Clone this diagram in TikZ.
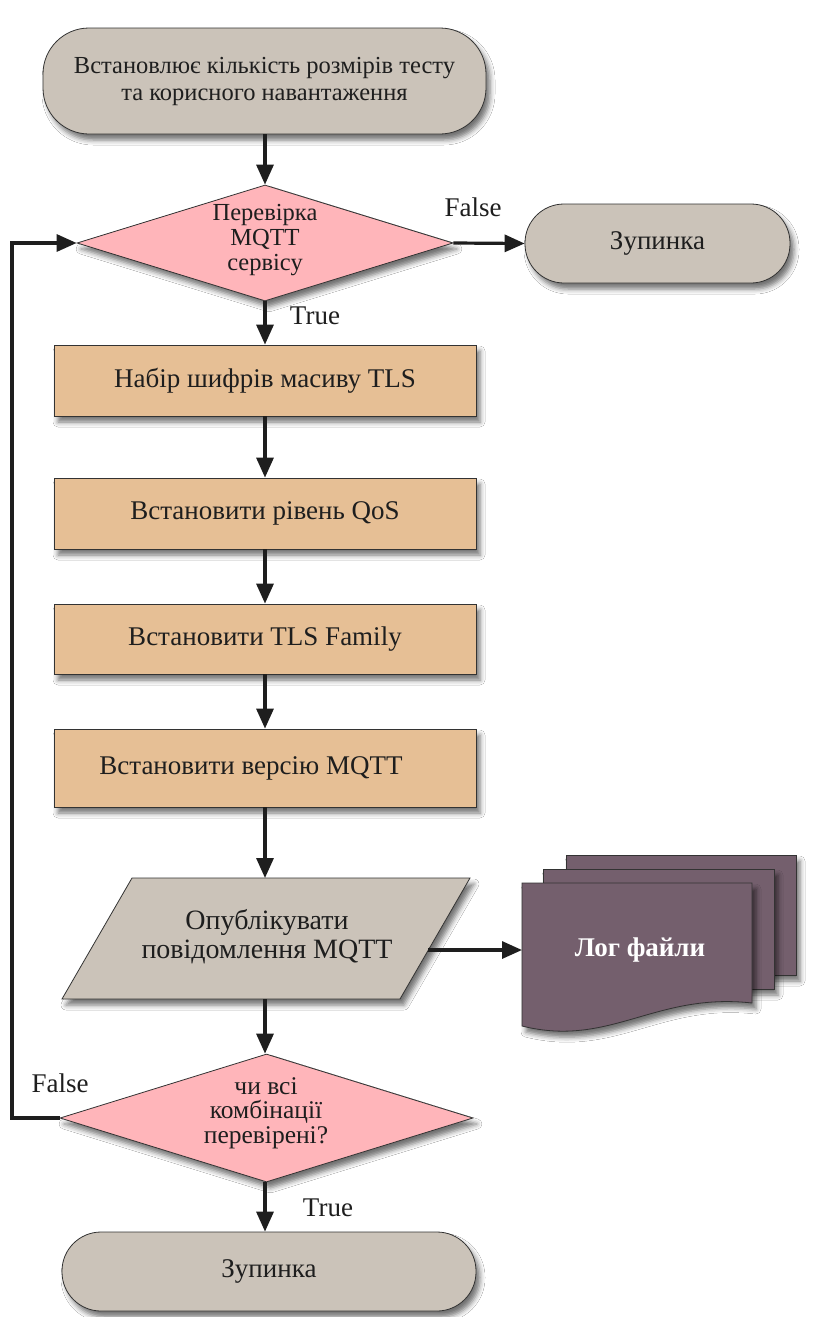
\documentclass[tikz,border=0pt]{standalone}
\usepackage{fontspec}
\setmainfont{Liberation Serif}
\usetikzlibrary{shapes.geometric,arrows.meta,shadows.blur}
\definecolor{termfill}{HTML}{CBC3B9}
\definecolor{decfill}{HTML}{FFB5BA}
\definecolor{procfill}{HTML}{E6BF95}
\definecolor{logfill}{HTML}{745F6D}
\definecolor{inkc}{HTML}{1E1E1E}
\begin{document}
\begin{tikzpicture}[x=1pt,y=-1pt,
  shade/.style={blur shadow={shadow xshift=4pt,shadow yshift=-6pt,shadow blur radius=5pt,shadow opacity=55}},
  base/.style={draw=black!80,line width=0.8pt,shade,inner sep=0pt,
    font=\fontsize{27}{26}\selectfont,align=center,text=inkc},
  term/.style={base,fill=termfill,rectangle,rounded corners=#1},
  proc/.style={base,fill=procfill,rectangle,minimum width=422pt},
  dec/.style={base,fill=decfill,diamond},
  txt/.style={font=\fontsize{27}{26}\selectfont,align=center,text=inkc,inner sep=0pt},
  dtxt/.style={font=\fontsize{24.5}{25}\selectfont,align=center,text=inkc,inner sep=0pt},
  lbl/.style={font=\fontsize{27}{26}\selectfont,text=inkc,inner sep=0pt},
  arr/.style={line width=3.2pt,draw=inkc,-{Triangle[length=20pt,width=17pt]}},
]
\useasboundingbox (0,0) rectangle (813,1317);
\fill[white] (0,0) rectangle (813,1317);

% start terminator
\node[term=46pt,minimum width=443pt,minimum height=106pt,
  font=\fontsize{24.5}{27}\selectfont] (start) at (264.5,81)
  {Встановлює кількість розмірів тесту\\та корисного навантаження};

% first decision
\node[dec,minimum width=376pt,minimum height=116pt] (d1) at (265,243) {};
\node[dtxt] (d1t) at (265,240) {Перевірка\\MQTT\\сервісу};

% stop on the right
\node[term=39pt,minimum width=265pt,minimum height=79pt] (stop1) at (657.5,243.5) {Зупинка};

% process boxes
\node[proc,minimum height=71pt] (b1) at (265,380.5) {Набір шифрів масиву TLS};
\node[proc,minimum height=71pt] (b2) at (265,513.5) {Встановити рівень QoS};
\node[proc,minimum height=70pt] (b3) at (265,639) {Встановити TLS Family};
\node[proc,minimum height=78pt] (b4) at (265,768) {};
\node[txt] (b4t) at (251,768) {Встановити версію MQTT};

% publish (parallelogram)
\filldraw[draw=black!80,line width=0.8pt,fill=termfill,shade]
  (132,878) -- (470,878) -- (400,999) -- (62,999) -- cycle;
\node[txt,font=\fontsize{28}{29}\selectfont] (pub) at (267,937) {Опублікувати\\повідомлення MQTT};
\coordinate (ptop) at (265,878);
\coordinate (pbot) at (265,999);
\coordinate (pout) at (428,950);

% stack of log documents
\filldraw[draw=black!80,line width=0.8pt,fill=logfill,shade] (566,855) rectangle (796,975);
\filldraw[draw=black!80,line width=0.8pt,fill=logfill,shade] (543,869) rectangle (774,989);
\filldraw[draw=black!80,line width=0.8pt,fill=logfill,shade]
  (522,883) -- (752,883) -- (752,1003)
  .. controls (655,992) and (610,1048) .. (522,1026) -- cycle;
\node[font=\fontsize{27}{26}\selectfont\bfseries,text=white,inner sep=0pt] (log) at (640,950) {Лог файли};
\coordinate (login) at (522,950);

% second decision
\node[dec,minimum width=413pt,minimum height=128pt] (d2) at (266.5,1118) {};
\node[dtxt,font=\fontsize{25.5}{24.5}\selectfont] (d2t) at (266,1113) {чи всі\\комбінації\\перевірені?};

% final stop
\node[term=39pt,minimum width=414pt,minimum height=79pt] (stop2) at (269,1271.5) {Зупинка};

% connectors
\draw[arr] (start.south -| d1.north) -- (d1.north);
\draw[arr] (d1.east) -- (stop1.west);
\draw[arr] (d1.south) -- (b1.north -| d1.south);
\draw[arr] (b1.south) -- (b2.north);
\draw[arr] (b2.south) -- (b3.north);
\draw[arr] (b3.south) -- (b4.north);
\draw[arr] (b4.south) -- (ptop);
\draw[arr] (pout) -- (login);
\draw[arr] (pbot) -- (pbot |- d2.north);
\draw[arr] (d2.south -| pbot) -- (pbot |- stop2.north);
\coordinate (loopx) at (12,0);
\draw[arr] (d2.west) -- (d2.west -| loopx) -- (d1.west -| loopx) -- (d1.west);

% branch labels
\node[lbl] (f1) at (473,207) {False};
\node[lbl] (t1) at (315,316) {True};
\node[lbl] (f2) at (60,1083) {False};
\node[lbl] (t2) at (328,1208) {True};
\end{tikzpicture}
\end{document}
